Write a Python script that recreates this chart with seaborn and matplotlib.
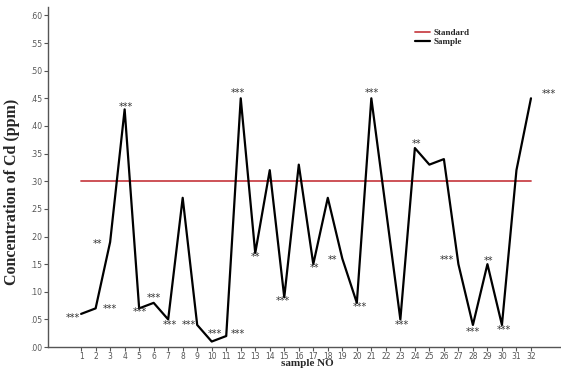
import numpy as np
import pandas as pd
import seaborn as sns
import matplotlib.pyplot as plt

# Cd concentration per sample (ppm)
sample_no = list(range(1, 33))
cd_values = [0.06, 0.07, 0.19, 0.43, 0.07, 0.08, 0.05, 0.27, 0.04, 0.01,
             0.02, 0.45, 0.17, 0.32, 0.09, 0.33, 0.15, 0.27, 0.16, 0.08,
             0.45, 0.25, 0.05, 0.36, 0.33, 0.34, 0.15, 0.04, 0.15, 0.04,
             0.32, 0.45]
standard = 0.30

# significance marks: (x, y, text)
mark_x = [0.45, 2.1, 3.0, 4.1, 5.05, 6.0, 7.1, 8.4, 10.2, 11.8, 11.8, 13.05,
          14.9, 17.05, 18.3, 20.2, 21.05, 23.1, 24.1, 26.2, 28.0, 29.05,
          30.1, 33.2]
mark_y = [0.052, 0.186, 0.069, 0.435, 0.063, 0.089, 0.040, 0.040, 0.024,
          0.024, 0.460, 0.163, 0.083, 0.143, 0.157, 0.072, 0.460, 0.040,
          0.367, 0.157, 0.027, 0.155, 0.031, 0.457]
mark_txt = ['***', '**', '***', '***', '***', '***', '***', '***', '***',
            '***', '***', '**', '***', '**', '**', '***', '***', '***',
            '**', '***', '***', '**', '***', '***']

df = pd.DataFrame({'sample': sample_no, 'cd': cd_values})
df['standard'] = standard

sns.set_style('white')
fig = plt.figure(figsize=(5.61, 3.72), dpi=100)
ax = fig.add_axes([0.0856, 0.067, 0.9144, 0.914])

sns.lineplot(data=df, x='sample', y='standard', color='#c9444a', lw=1.3,
             label='Standard', ax=ax)
sns.lineplot(data=df, x='sample', y='cd', color='black', lw=1.6,
             label='Sample', ax=ax)

for x, y, t in zip(mark_x, mark_y, mark_txt):
    ax.text(x, y, t, fontsize=7, color='#333333', ha='center', va='center')

ax.set_xlim(-1.28, 34.07)
ax.set_ylim(0, 0.615)
ax.set_xticks(sample_no)
ax.set_yticks(np.arange(0, 0.61, 0.05))
ax.set_yticklabels([('%.2f' % v)[1:] for v in np.arange(0, 0.61, 0.05)])
ax.tick_params(axis='both', labelsize=5.5, labelcolor='#555555',
               length=3, width=0.8, color='#555555', pad=1.5,
               bottom=True, left=True)
ax.tick_params(axis='x', pad=0.3)

for s in ['top', 'right']:
    ax.spines[s].set_visible(False)
for s in ['left', 'bottom']:
    ax.spines[s].set_color('#555555')
    ax.spines[s].set_linewidth(1.0)

ax.set_xlabel('sample NO', fontsize=8, fontweight='bold',
              family='Liberation Serif')
ax.xaxis.set_label_coords(0.505, -0.036)
ax.set_ylabel('Concentration of Cd (ppm)', fontsize=11.5, fontweight='bold',
              family='Liberation Serif')
ax.yaxis.set_label_coords(-0.054, 0.456)

leg = ax.legend(loc='upper left', bbox_to_anchor=(0.70, 0.96), frameon=False,
                prop={'family': 'Liberation Serif', 'weight': 'bold', 'size': 6.5},
                handlelength=1.6, handletextpad=0.4, labelspacing=0.1)

plt.savefig('out.png', dpi=100)
